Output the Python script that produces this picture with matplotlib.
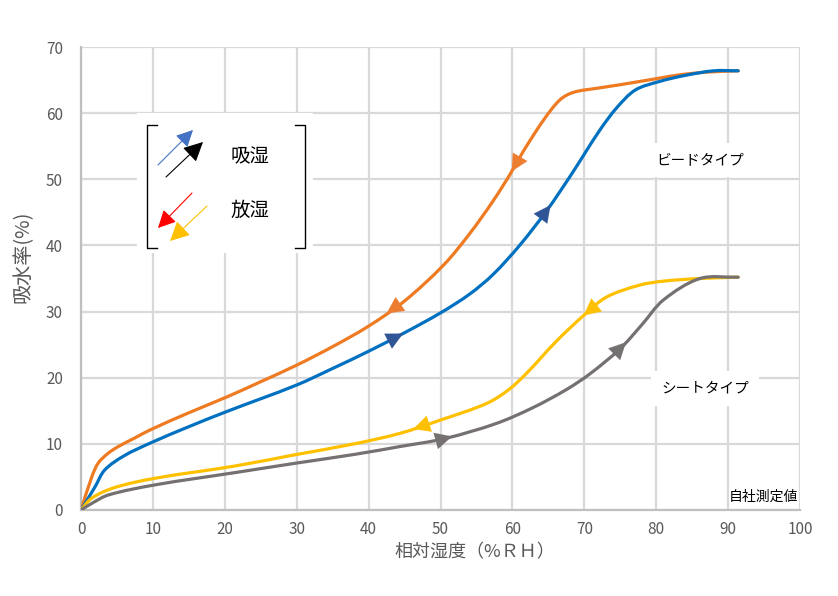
import matplotlib
matplotlib.use("Agg")
import matplotlib.pyplot as plt
from matplotlib.path import Path
from matplotlib.patches import PathPatch
import numpy as np

plt.rcParams['font.family'] = ['Noto Sans CJK JP', 'DejaVu Sans']

# bead type - absorption (blue)
rh_bead_abs = [0, 1.95, 3.3, 6, 9.6, 15, 20.3, 30, 35, 40, 45, 50, 54, 57.3, 61, 64.8, 68, 70, 72.2, 74.5, 77.1, 80.5, 84, 88, 91.4]
bead_abs = [0, 3.5, 6.05, 8.2, 10.1, 12.6, 14.9, 18.9, 21.4, 24.0, 26.8, 29.8, 32.6, 35.6, 40.0, 45.3, 50.4, 53.8, 57.5, 60.8, 63.5, 64.8, 65.7, 66.4, 66.4]

# bead type - desorption (orange)
rh_bead_des = [0, 1.5, 2.4, 3.8, 5.2, 7.5, 9.6, 15, 20.3, 25, 30, 35, 40, 45, 50.4, 54, 57.3, 59.7, 61.5, 64.3, 66.6, 68.5, 72, 75, 80.5, 83.3, 87, 91.4]
bead_des = [0, 5.0, 7.1, 8.6, 9.6, 10.9, 12.1, 14.7, 17.1, 19.4, 21.9, 24.7, 27.8, 31.6, 37.0, 41.7, 46.7, 50.8, 54.2, 58.9, 62.0, 63.15, 63.8, 64.3, 65.3, 65.8, 66.2, 66.4]

# sheet type - absorption (grey)
rh_sheet_abs = [0, 1.5, 3.8, 10.3, 21.4, 30, 38, 44.4, 50.6, 57.8, 62.9, 67.5, 70.8, 75, 78, 81, 86.1, 91.4]
sheet_abs = [0, 1.0, 2.27, 3.8, 5.65, 7.1, 8.4, 9.6, 10.8, 13.1, 15.5, 18.2, 20.6, 24.4, 28.0, 31.75, 35.0, 35.2]

# sheet type - desorption (yellow)
rh_sheet_des = [0, 1.5, 4.7, 10.3, 21.4, 30, 38, 44.4, 50, 56.4, 59.5, 62, 66.1, 70, 73.1, 77.7, 81, 86.1, 91.4]
sheet_des = [0, 1.8, 3.4, 4.8, 6.65, 8.4, 10.0, 11.6, 13.6, 16.1, 18.2, 20.7, 25.5, 29.5, 32.2, 34.0, 34.6, 35.0, 35.2]

# where the direction arrows point to (x in %RH)
arrows_bead_abs = [44.8, 65.3]
arrows_bead_des = [42.5, 59.9]
arrows_sheet_abs = [51.6, 75.8]
arrows_sheet_des = [46.2, 69.9]

fig = plt.figure(figsize=(8.38, 5.96), dpi=100)
ax = fig.add_axes([81/838, 1-510/596, 719/838, 463/596])

c_blue, c_orange, c_grey, c_yellow = '#0070C0', '#EE7A22', '#767171', '#FFC000'


def smooth_line(xs, ys, color):
    # excel-like smoothed line: cubic bezier segments through the points,
    # tangents scaled by chord length (in screen-like units)
    p = np.column_stack([xs, ys]).astype(float)
    q = p * np.array([7.19, 6.61])
    t = np.concatenate([[0], np.cumsum(np.hypot(*np.diff(q, axis=0).T))])
    n = len(p)
    d = np.zeros_like(p)
    for i in range(n):
        a = max(i - 1, 0)
        b = min(i + 1, n - 1)
        d[i] = (p[b] - p[a]) / (t[b] - t[a])
    verts = [p[0]]
    codes = [Path.MOVETO]
    for i in range(n - 1):
        h = t[i + 1] - t[i]
        verts += [p[i] + d[i] * h / 3, p[i + 1] - d[i + 1] * h / 3, p[i + 1]]
        codes += [Path.CURVE4] * 3
    ax.add_patch(PathPatch(Path(verts, codes), facecolor='none', edgecolor=color,
                           lw=2.3, capstyle='round', joinstyle='round', zorder=3))


smooth_line(rh_bead_des, bead_des, c_orange)
smooth_line(rh_bead_abs, bead_abs, c_blue)
smooth_line(rh_sheet_des, sheet_des, c_yellow)
smooth_line(rh_sheet_abs, sheet_abs, c_grey)


def add_arrows(xs, ys, where, color, forward):
    for xa in where:
        ya = np.interp(xa, xs, ys)
        d = 1.0 if forward else -1.0
        xb = xa - d * 1.2
        yb = np.interp(xb, xs, ys)
        ax.annotate('', xy=(xa, ya), xytext=(xb, yb),
                    arrowprops=dict(arrowstyle='-|>,head_length=0.6,head_width=0.3',
                                    mutation_scale=20, color=color, lw=0.1,
                                    shrinkA=0, shrinkB=0),
                    zorder=4)


add_arrows(rh_bead_abs, bead_abs, arrows_bead_abs, '#2F5597', True)
add_arrows(rh_bead_des, bead_des, arrows_bead_des, '#ED7D31', False)
add_arrows(rh_sheet_abs, sheet_abs, arrows_sheet_abs, c_grey, True)
add_arrows(rh_sheet_des, sheet_des, arrows_sheet_des, c_yellow, False)

ax.set_xlim(0, 100)
ax.set_ylim(0, 70)
ax.set_xticks(range(0, 101, 10))
ax.set_yticks(range(0, 71, 10))
ax.grid(True, color='#D9D9D9', lw=1.6)
ax.set_axisbelow(True)
for s in ['top', 'right']:
    ax.spines[s].set_visible(False)
for s in ['left', 'bottom']:
    ax.spines[s].set_color('#BFBFBF')
    ax.spines[s].set_linewidth(1.6)
ax.tick_params(length=0, labelsize=11, labelcolor='#595959')
ax.tick_params(axis='y', pad=13)
ax.tick_params(axis='x', pad=8)

ax.set_xlabel('相対湿度（%ＲＨ）', fontsize=13, color='#595959', x=0.548)
ax.set_ylabel('吸水率(%)', fontsize=14.5, color='#595959')
ax.yaxis.set_label_coords(-0.066, 0.546)

box = dict(boxstyle='square,pad=0.7', facecolor='white', edgecolor='none')
ax.text(86.1, 52.9, 'ビードタイプ', fontsize=10.5, ha='center', va='center', bbox=box, zorder=2)
ax.text(86.8, 18.4, 'シートタイプ', fontsize=10.5, ha='center', va='center', bbox=box, zorder=2)
ax.text(99.8, 2.0, '自社測定値', fontsize=10, ha='right', va='center', zorder=2)

# legend box, drawn in pixel units
lg = fig.add_axes([137/838, 1-253/596, 176/838, 140/596])
lg.set_xlim(0, 176)
lg.set_ylim(140, 0)
lg.axis('off')
lg.add_patch(plt.Rectangle((0, 0), 176, 140, facecolor='white', edgecolor='none'))
lg.plot([20, 10, 10, 20], [12, 12, 135, 135], color='black', lw=1)
lg.plot([158, 168, 168, 158], [12, 12, 135, 135], color='black', lw=1)


def leg_arrow(p0, p1, color, size, lw):
    lg.annotate('', xy=p1, xytext=p0,
                arrowprops=dict(arrowstyle='-|>,head_length=0.6,head_width=0.3',
                                mutation_scale=size, color=color, lw=lw,
                                shrinkA=0, shrinkB=0))


leg_arrow((21, 52), (56, 17), '#4472C4', 17, 0.8)
leg_arrow((29, 64), (66, 29), 'black', 20, 0.8)
leg_arrow((55, 80), (21, 115), '#FF0000', 18, 0.8)
leg_arrow((70, 93), (33, 128), c_yellow, 20, 0.8)
lg.text(113, 44, '吸湿', fontsize=14, ha='center', va='center')
lg.text(113, 97, '放湿', fontsize=14, ha='center', va='center')

fig.savefig('out.png', dpi=100)
